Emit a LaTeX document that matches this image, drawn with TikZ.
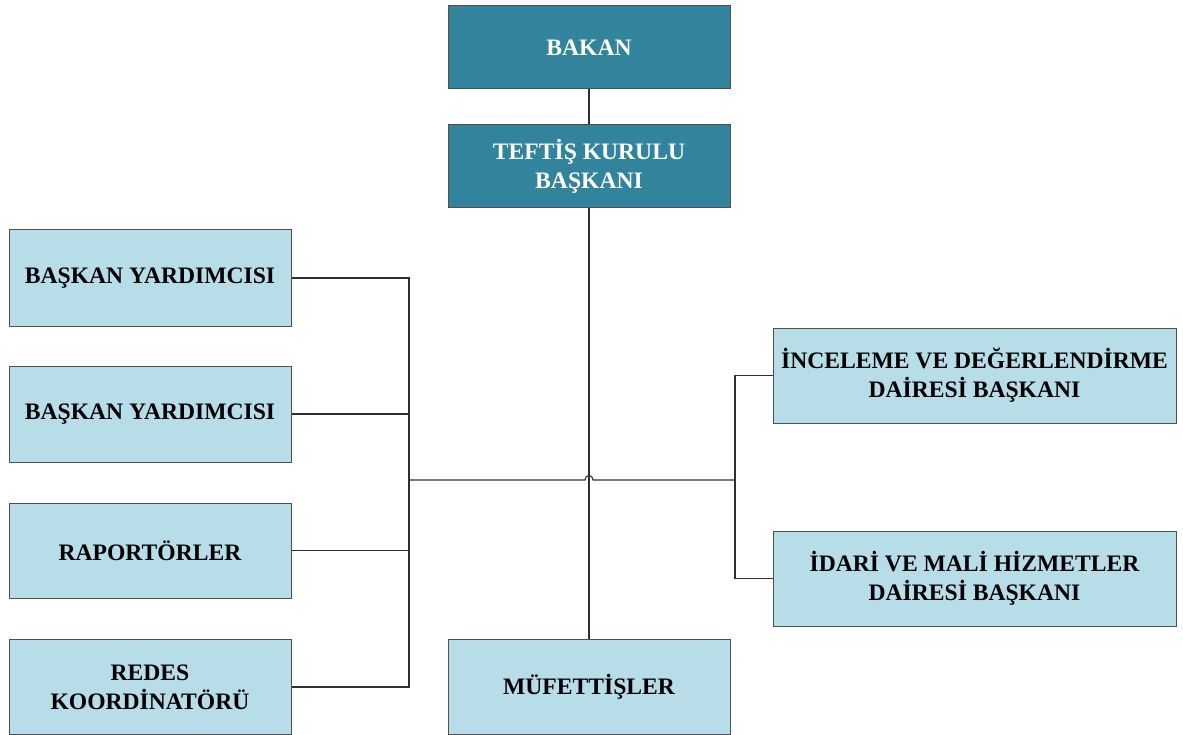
\documentclass[tikz,border=0pt]{standalone}
\usepackage{fontspec}
\setmainfont{Liberation Serif}
\definecolor{darkc}{HTML}{31849B}
\definecolor{lightc}{HTML}{B7DDE8}
\definecolor{edgec}{HTML}{505050}
\definecolor{linec}{HTML}{303030}
\begin{document}
\begin{tikzpicture}[x=1pt,y=-1pt,
  box/.style={draw=edgec, line width=1pt, align=center, inner sep=0pt,
    font=\bfseries\fontsize{23.6}{29}\selectfont},
  darkbox/.style={box, fill=darkc, text=white},
  lightbox/.style={box, fill=lightc, text=black},
  conn/.style={draw=linec, line width=1.1pt}]
\useasboundingbox (0,0) rectangle (1183,735);
\node[darkbox, minimum width=282pt, minimum height=83pt] (bakan) at (589,47.5) {BAKAN};
\node[darkbox, minimum width=282pt, minimum height=83pt] (teftis) at (589,166.5) {TEFTİŞ KURULU\\BAŞKANI};
\node[lightbox, minimum width=282pt, minimum height=96pt] (by1) at (150,278) {BAŞKAN YARDIMCISI};
\node[lightbox, minimum width=282pt, minimum height=96pt] (by2) at (150,414) {BAŞKAN YARDIMCISI};
\node[lightbox, minimum width=282pt, minimum height=95pt] (rap) at (150,550.5) {RAPORTÖRLER};
\node[lightbox, minimum width=282pt, minimum height=95pt] (redes) at (150,687) {REDES\\KOORDİNATÖRÜ};
\node[lightbox, minimum width=282pt, minimum height=95pt] (muf) at (589,687) {MÜFETTİŞLER};
\node[lightbox, minimum width=403pt, minimum height=95pt] (inc) at (974.5,375.5) {İNCELEME VE DEĞERLENDİRME\\DAİRESİ BAŞKANI};
\node[lightbox, minimum width=403pt, minimum height=95pt] (idari) at (974.5,578.5) {İDARİ VE MALİ HİZMETLER\\DAİRESİ BAŞKANI};
\coordinate (lbx) at (409,0);
\coordinate (rbx) at (735,0);
\coordinate (hl) at (409,480);
\coordinate (hr) at (735,480);
\coordinate (hopL) at (585,480);
\coordinate (hopR) at (593,480);
\draw[conn] (bakan) -- (teftis);
\draw[conn] (teftis.south) -- (muf.north);
\draw[conn] (hl) -- (hopL) .. controls +(0,-6) and +(0,-6) .. (hopR) -- (hr);
\draw[conn] (by1.east) -| (redes.east -| lbx) -- (redes.east);
\draw[conn] (by2.east) -- (by2.east -| lbx);
\draw[conn] (rap.east) -- (rap.east -| lbx);
\draw[conn] (inc.west) -| (idari.west -| rbx) -- (idari.west);
\end{tikzpicture}
\end{document}
